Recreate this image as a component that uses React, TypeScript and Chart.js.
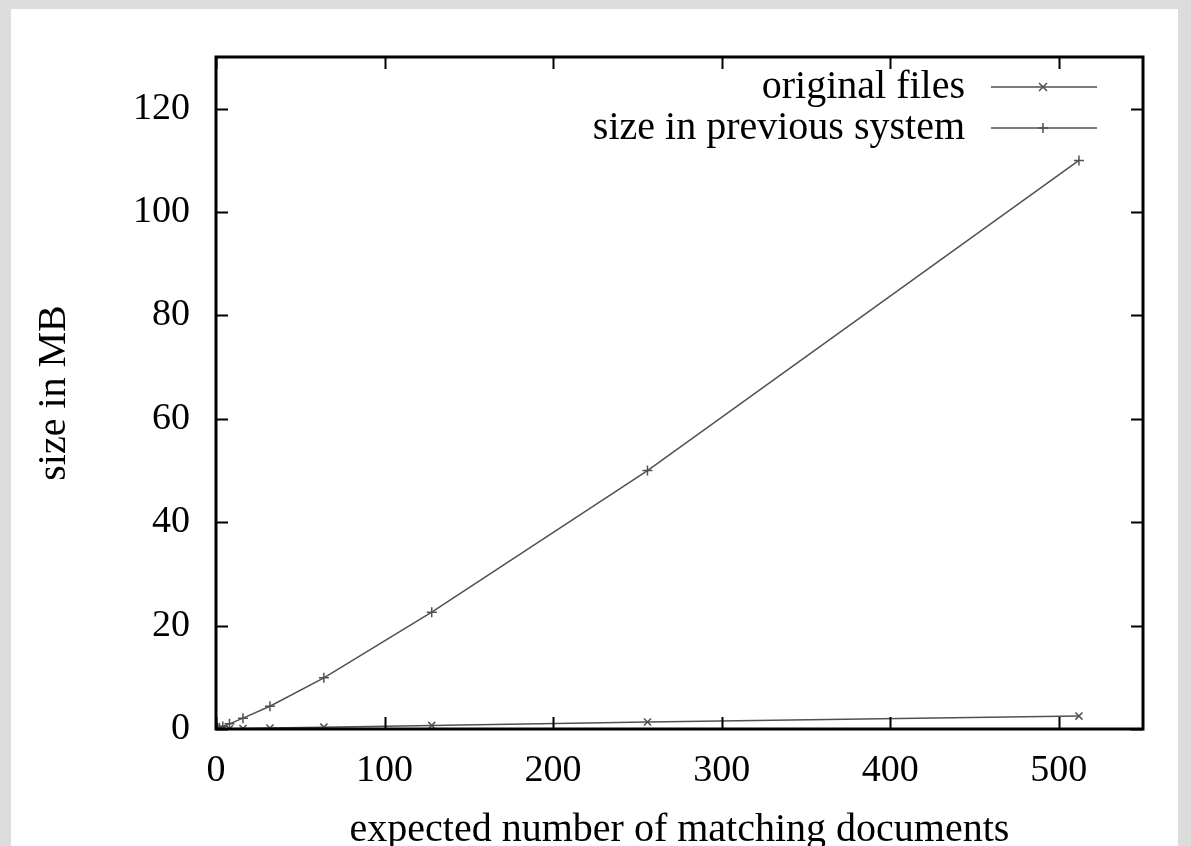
import React, { useEffect, useRef } from "react";
import { Chart, registerables } from "chart.js";

Chart.register(...registerables);

const xValues = [1, 2, 4, 8, 16, 32, 64, 128, 256, 512];
const originalFiles = [0.005, 0.01, 0.02, 0.04, 0.09, 0.18, 0.35, 0.7, 1.35, 2.5];
const previousSystem = [0.12, 0.25, 0.5, 1.0, 2.1, 4.4, 9.9, 22.6, 50, 110];
const seriesLabels = ["original files", "size in previous system"];
const seriesMarkers = ["crossRot", "cross"];
const xTicks = [0, 100, 200, 300, 400, 500];
const yTicks = [0, 20, 40, 60, 80, 100, 120];
const xTitle = "expected number of matching documents";
const yTitle = "size in MB";

const FONT = "'Liberation Serif', 'Times New Roman', serif";
const LINE_COLOR = "#505050";

const framePlugin = {
  id: "gnuplotFrame",
  afterDraw(chart: any) {
    const { ctx, chartArea, scales } = chart;
    const { left, right, top, bottom } = chartArea;
    const xs = scales.x;
    const ys = scales.y;
    ctx.save();
    ctx.strokeStyle = "#000";
    ctx.lineWidth = 2;
    ctx.beginPath();
    xs.ticks.forEach((t: any) => {
      const px = Math.round(xs.getPixelForValue(t.value)) + 0.5;
      ctx.moveTo(px, bottom);
      ctx.lineTo(px, bottom - 12);
      ctx.moveTo(px, top);
      ctx.lineTo(px, top + 12);
    });
    ys.ticks.forEach((t: any) => {
      const py = Math.round(ys.getPixelForValue(t.value)) + 0.5;
      ctx.moveTo(left, py);
      ctx.lineTo(left + 12, py);
      ctx.moveTo(right, py);
      ctx.lineTo(right - 12, py);
    });
    ctx.stroke();
    ctx.lineWidth = 3;
    ctx.strokeRect(left, top, right - left, bottom - top);

    // legend (gnuplot style: text right-aligned, sample to the right)
    ctx.font = `40px ${FONT}`;
    ctx.textAlign = "right";
    ctx.textBaseline = "middle";
    ctx.fillStyle = "#000";
    chart.data.datasets.forEach((ds: any, i: number) => {
      const y = top + 30 + i * 41;
      ctx.fillText(ds.label, right - 178, y);
      ctx.strokeStyle = LINE_COLOR;
      ctx.lineWidth = 1.5;
      ctx.beginPath();
      ctx.moveTo(right - 152, y);
      ctx.lineTo(right - 46, y);
      ctx.stroke();
      const cx = right - 100;
      const r = 5;
      ctx.beginPath();
      if (ds.pointStyle === "crossRot") {
        const d = r * 0.8;
        ctx.moveTo(cx - d, y - d);
        ctx.lineTo(cx + d, y + d);
        ctx.moveTo(cx + d, y - d);
        ctx.lineTo(cx - d, y + d);
      } else {
        ctx.moveTo(cx - r, y);
        ctx.lineTo(cx + r, y);
        ctx.moveTo(cx, y - r);
        ctx.lineTo(cx, y + r);
      }
      ctx.stroke();
    });
    ctx.restore();
  },
};

export default function App() {
  const ref = useRef<HTMLCanvasElement | null>(null);
  useEffect(() => {
    if (!ref.current) return;
    document.body.style.margin = "0";
    const mk = (vals: number[]) => xValues.map((x, i) => ({ x, y: vals[i] }));
    const chart = new Chart(ref.current, {
      type: "line",
      data: {
        datasets: [
          {
            label: seriesLabels[0],
            data: mk(originalFiles),
            borderColor: LINE_COLOR,
            borderWidth: 1.5,
            pointStyle: seriesMarkers[0] as any,
            pointRadius: 5,
            pointBorderColor: LINE_COLOR,
            pointBorderWidth: 1.5,
            fill: false,
            tension: 0,
          },
          {
            label: seriesLabels[1],
            data: mk(previousSystem),
            borderColor: LINE_COLOR,
            borderWidth: 1.5,
            pointStyle: seriesMarkers[1] as any,
            pointRadius: 5,
            pointBorderColor: LINE_COLOR,
            pointBorderWidth: 1.5,
            fill: false,
            tension: 0,
          },
        ],
      },
      options: {
        animation: false,
        responsive: false,
        maintainAspectRatio: false,
        layout: { padding: { left: 0, top: 57, right: 48, bottom: 0 } },
        plugins: { legend: { display: false }, tooltip: { enabled: false } },
        scales: {
          x: {
            type: "linear",
            min: 0,
            max: 550,
            grid: { display: false, drawTicks: false },
            border: { display: false },
            ticks: {
              padding: 19,
              color: "#000",
              font: { family: FONT, size: 38 },
              maxRotation: 0,
              includeBounds: false,
            },
            afterBuildTicks: (s: any) => {
              s.ticks = xTicks.map((v) => ({ value: v }));
            },
            afterFit: (s: any) => {
              s.height = 117;
            },
            title: {
              display: true,
              text: xTitle,
              color: "#000",
              font: { family: FONT, size: 40 },
              padding: { top: 0, bottom: -8 },
            },
          },
          y: {
            type: "linear",
            min: 0,
            max: 130,
            grid: { display: false, drawTicks: false },
            border: { display: false },
            ticks: {
              padding: 26,
              color: "#000",
              font: { family: FONT, size: 38 },
              includeBounds: false,
            },
            afterBuildTicks: (s: any) => {
              s.ticks = yTicks.map((v) => ({ value: v }));
            },
            afterFit: (s: any) => {
              s.width = 216;
            },
            title: {
              display: true,
              text: yTitle,
              color: "#000",
              font: { family: FONT, size: 40 },
              padding: { top: 30, bottom: 0 },
            },
          },
        },
      },
      plugins: [framePlugin],
    });
    return () => chart.destroy();
  }, []);

  return (
    <div style={{ position: "relative", width: 1191, height: 846, background: "#dcdcdc", overflow: "hidden" }}>
      <div style={{ position: "absolute", left: 11, top: 9, width: 1167, height: 860, background: "#fff" }} />
      <canvas ref={ref} width={1191} height={846} style={{ position: "absolute", left: 0, top: 0, width: 1191, height: 846 }} />
    </div>
  );
}
